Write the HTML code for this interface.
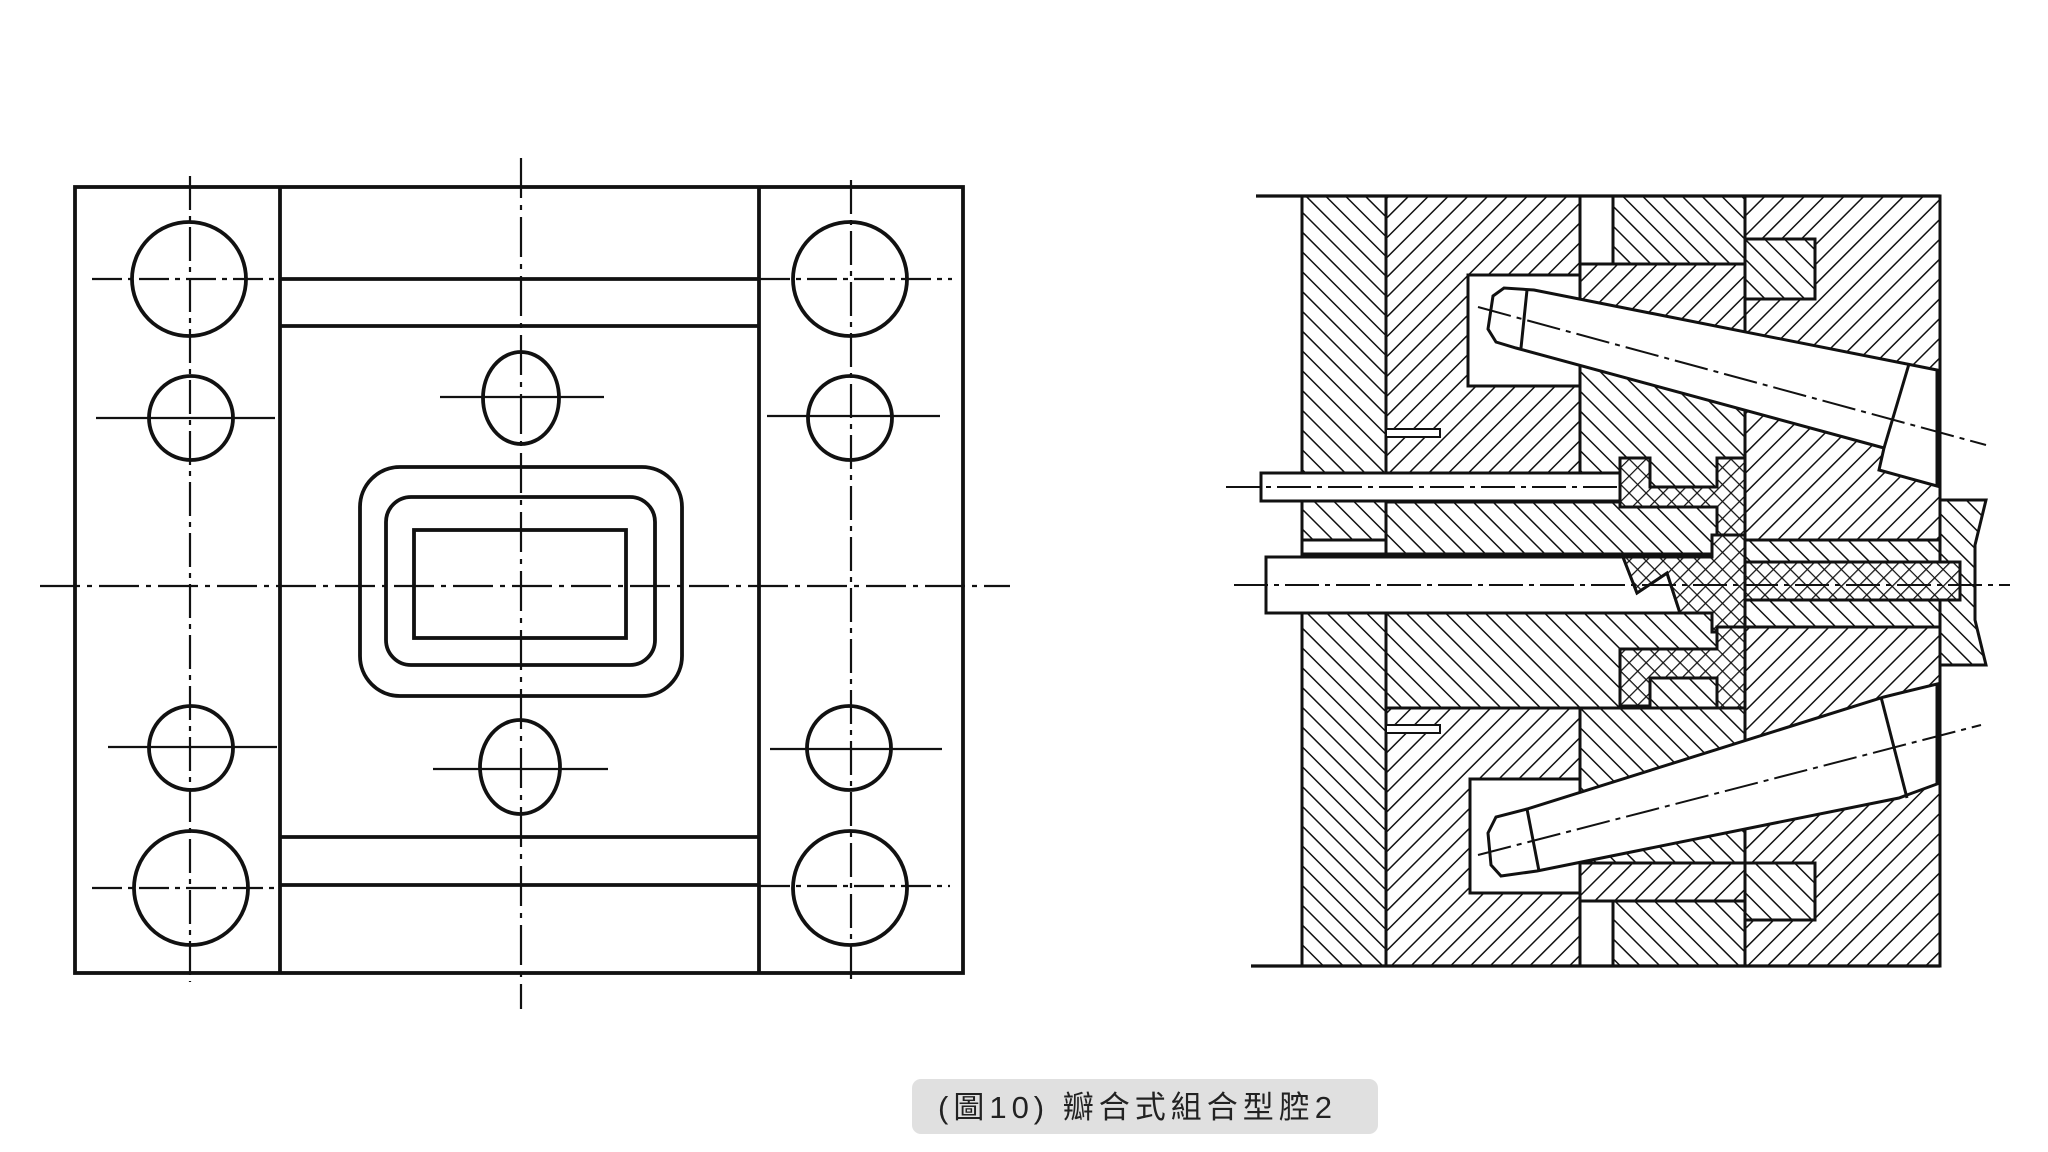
<!DOCTYPE html>
<html><head><meta charset="utf-8"><style>
html,body{margin:0;padding:0;background:#fff;width:2048px;height:1152px;overflow:hidden}
svg{display:block}
</style></head><body>
<svg width="2048" height="1152" viewBox="0 0 2048 1152" xmlns="http://www.w3.org/2000/svg">
<defs>
<pattern id="hs" patternUnits="userSpaceOnUse" width="14" height="14" patternTransform="rotate(45)"><rect width="14" height="14" fill="#fff"/><line x1="0" y1="0" x2="0" y2="14" stroke="#111" stroke-width="3"/></pattern>
<pattern id="hb" patternUnits="userSpaceOnUse" width="14" height="14" patternTransform="rotate(-45)"><rect width="14" height="14" fill="#fff"/><line x1="0" y1="0" x2="0" y2="14" stroke="#111" stroke-width="3"/></pattern>
<pattern id="hx" patternUnits="userSpaceOnUse" width="12" height="12" patternTransform="rotate(45)"><rect width="12" height="12" fill="#fff"/><line x1="0" y1="0" x2="0" y2="12" stroke="#111" stroke-width="2.5"/><line x1="0" y1="0" x2="12" y2="0" stroke="#111" stroke-width="2.5"/></pattern>
</defs>

<!-- LEFT DRAWING -->
<g fill="none" stroke="#111" stroke-width="3.8">
<rect x="75" y="187" width="888" height="786"/>
<line x1="280" y1="187" x2="280" y2="973"/>
<line x1="759" y1="187" x2="759" y2="973"/>
<line x1="280" y1="279" x2="759" y2="279"/>
<line x1="280" y1="326" x2="759" y2="326"/>
<line x1="280" y1="837" x2="759" y2="837"/>
<line x1="280" y1="885" x2="759" y2="885"/>
<circle cx="189" cy="279" r="57"/><circle cx="850" cy="279" r="57"/>
<circle cx="191" cy="418" r="42"/><circle cx="850" cy="418" r="42"/>
<circle cx="191" cy="748" r="42"/><circle cx="849" cy="748" r="42"/>
<circle cx="191" cy="888" r="57"/><circle cx="850" cy="888" r="57"/>
<ellipse cx="521" cy="398" rx="38" ry="46"/>
<ellipse cx="520" cy="767" rx="40" ry="47"/>
<rect x="360" y="467" width="322" height="229" rx="40"/>
<rect x="386" y="497" width="269" height="168" rx="25"/>
<rect x="414" y="530" width="212" height="108"/>
</g>
<g fill="none" stroke="#111" stroke-width="2.2">
<line x1="521" y1="158" x2="521" y2="1009" stroke-dasharray="40 7 5 7"/>
<line x1="40" y1="586" x2="1010" y2="586" stroke-dasharray="40 7 5 7"/>
<line x1="190" y1="176" x2="190" y2="982" stroke-dasharray="34 6 5 6"/>
<line x1="851" y1="180" x2="851" y2="980" stroke-dasharray="34 6 5 6"/>
<line x1="92" y1="279" x2="278" y2="279" stroke-dasharray="30 6 5 6"/>
<line x1="760" y1="279" x2="952" y2="279" stroke-dasharray="30 6 5 6"/>
<line x1="96" y1="418" x2="275" y2="418"/>
<line x1="767" y1="416" x2="940" y2="416"/>
<line x1="108" y1="747" x2="277" y2="747"/>
<line x1="770" y1="749" x2="942" y2="749"/>
<line x1="92" y1="888" x2="278" y2="888" stroke-dasharray="30 6 5 6"/>
<line x1="760" y1="886" x2="950" y2="886" stroke-dasharray="30 6 5 6"/>
<line x1="440" y1="397" x2="604" y2="397"/>
<line x1="433" y1="769" x2="608" y2="769"/>
</g>

<!-- RIGHT DRAWING -->
<g stroke="#111" stroke-width="3">
<rect x="1302" y="196" width="84" height="770" fill="url(#hb)"/>
<rect x="1386" y="196" width="194" height="770" fill="url(#hs)"/>
<rect x="1580" y="196" width="33" height="770" fill="#fff"/>
<rect x="1580" y="264" width="165" height="76" fill="url(#hs)"/>
<rect x="1580" y="340" width="165" height="160" fill="url(#hb)"/>
<rect x="1580" y="708" width="165" height="155" fill="url(#hb)"/>
<rect x="1580" y="863" width="165" height="38" fill="url(#hs)"/>
<rect x="1613" y="196" width="132" height="68" fill="url(#hb)"/>
<rect x="1613" y="901" width="132" height="65" fill="url(#hb)"/>
<rect x="1745" y="196" width="195" height="770" fill="url(#hs)"/>
<rect x="1745" y="239" width="70" height="60" fill="url(#hb)"/>
<rect x="1745" y="863" width="70" height="57" fill="url(#hb)"/>
<rect x="1386" y="502" width="359" height="52" fill="url(#hb)"/>
<rect x="1386" y="613" width="359" height="95" fill="url(#hb)"/>
<rect x="1745" y="540" width="195" height="87" fill="url(#hb)"/>
<path d="M1940 500 H1986 L1975 545 L1975 620 L1986 665 H1940 Z" fill="url(#hb)"/>
<rect x="1302" y="540" width="84" height="14" fill="#fff"/>
<path d="M1386 429 H1440 V437 H1386 Z" fill="#fff" stroke-width="2"/>
<path d="M1386 725 H1440 V733 H1386 Z" fill="#fff" stroke-width="2"/>
<rect x="1468" y="275" width="112" height="111" fill="#fff"/>
<rect x="1470" y="779" width="110" height="114" fill="#fff"/>
<polygon points="1493,296 1504,288 1534,290 1907,364 1937,370 1937,486 1879,470 1884,448 1516,348 1496,342 1488,329" fill="#fff"/>
<line x1="1527" y1="290" x2="1521" y2="348"/>
<line x1="1909" y1="364" x2="1884" y2="448"/>
<polygon points="1488,833 1496,817 1527,809 1884,697 1937,684 1937,784 1907,795 1899,798 1537,871 1501,876 1491,865" fill="#fff"/>
<line x1="1527" y1="809" x2="1539" y2="871"/>
<line x1="1881" y1="697" x2="1907" y2="798"/>
<rect x="1261" y="473" width="362" height="28" fill="#fff"/>
<polygon points="1266,557 1623,557 1637,593 1667,573 1680,613 1266,613" fill="#fff"/>
<g fill="url(#hx)">
<path d="M1620 458 H1650 V487 H1717 V458 H1745 V535 H1717 V507 H1620 Z"/>
<path d="M1623 557 H1712 V535 H1745 V632 H1712 V613 H1680 L1667 573 L1637 593 Z"/>
<rect x="1745" y="562" width="215" height="38"/>
<path d="M1620 649 H1717 V627 H1745 V708 H1717 V678 H1650 V706 H1620 Z"/>
</g>
</g>
<g stroke="#111" stroke-width="3.2" fill="none">
<line x1="1256" y1="196" x2="1940" y2="196"/>
<line x1="1251" y1="966" x2="1940" y2="966"/>
</g>
<g stroke="#111" stroke-width="2" fill="none" stroke-dasharray="34 6 5 6">
<line x1="1478" y1="307" x2="1986" y2="445"/>
<line x1="1478" y1="855" x2="1981" y2="725"/>
<line x1="1226" y1="487" x2="1620" y2="487"/>
<line x1="1234" y1="585" x2="2010" y2="585"/>
</g>

<!-- CAPTION -->
<rect x="912" y="1079" width="466" height="55" rx="9" fill="#e0e0e0"/>
<text x="938" y="1118" font-family="'Liberation Sans','Noto Sans CJK TC',sans-serif" font-size="31" fill="#222" letter-spacing="5">(圖10)  瓣合式組合型腔2</text>
</svg>
</body></html>
